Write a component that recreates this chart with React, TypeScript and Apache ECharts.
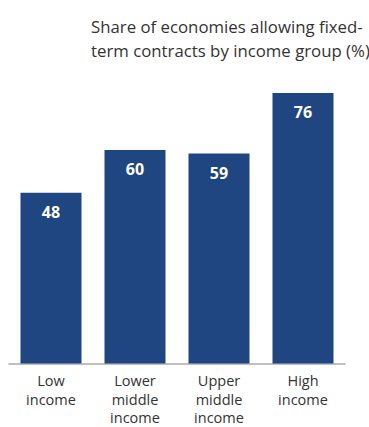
import React, { useEffect, useRef } from "react";
import * as echarts from "echarts";

const categories = ["Low\nincome", "Lower\nmiddle\nincome", "Upper\nmiddle\nincome", "High\nincome"];
const values = [48, 60, 59, 76];
const titleLines = ["Share of economies allowing fixed-", "term contracts by income group (%)"];

const FONT = "'Open Sans', sans-serif";

export default function App() {
  const ref = useRef<HTMLDivElement>(null);
  useEffect(() => {
    const chart = echarts.init(ref.current!, null, { renderer: "svg" });
    chart.setOption({
      animation: false,
      title: {
        text: titleLines.join("\n"),
        left: 86,
        top: 9,
        textStyle: { fontFamily: FONT, fontSize: 16.8, fontWeight: "normal", color: "#333", lineHeight: 24 },
      },
      grid: { left: 9, right: 24, top: 93, bottom: 61, containLabel: false },
      xAxis: {
        type: "category",
        data: categories,
        axisLine: { lineStyle: { color: "#aaaaaa", width: 1.5 } },
        axisTick: { show: false },
        axisLabel: {
          fontFamily: FONT,
          fontSize: 14.5,
          color: "#333",
          lineHeight: 18.5,
          margin: 8,
          verticalAlign: "top",
          interval: 0,
        },
      },
      yAxis: { type: "value", min: 0, max: 76, show: false, splitLine: { show: false } },
      series: [
        {
          type: "bar",
          data: values,
          barWidth: 61,
          itemStyle: { color: "#1f4680" },
          label: {
            show: true,
            position: "insideTop",
            distance: 11,
            color: "#fff",
            fontFamily: FONT,
            fontWeight: "bold",
            fontSize: 16,
          },
        },
      ],
    });
    return () => chart.dispose();
  }, []);
  return <div ref={ref} style={{ width: 369, height: 427, position: "absolute", left: 0, top: 0 }} />;
}
